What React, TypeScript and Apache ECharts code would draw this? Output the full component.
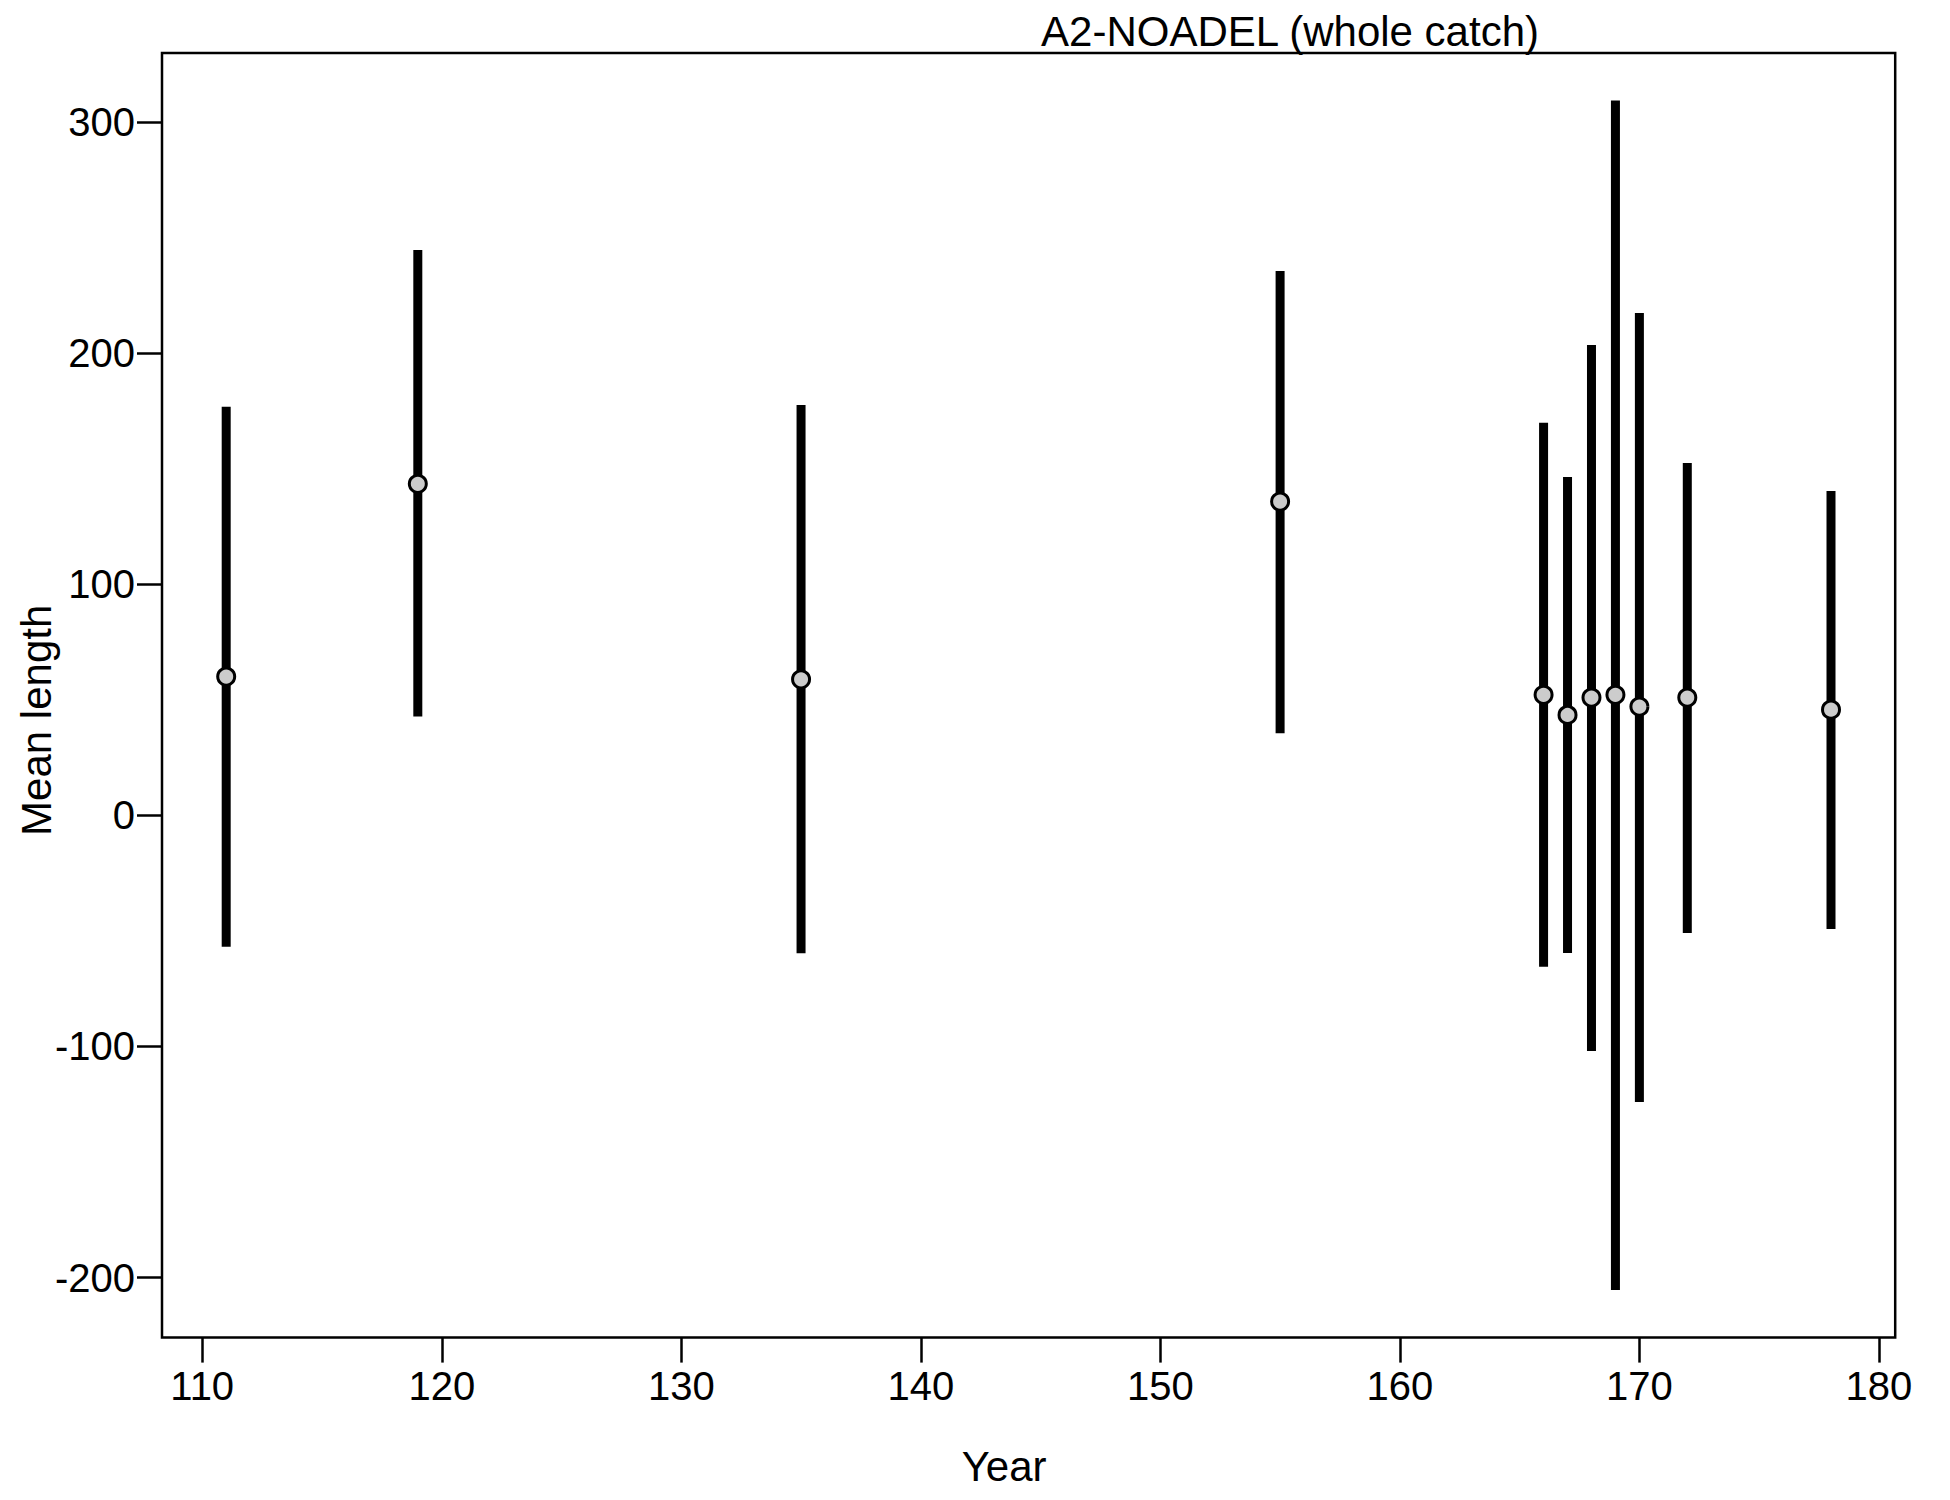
import React, { useEffect, useRef } from "react";
import * as echarts from "echarts";

// ---- data ----
const years = [111, 119, 135, 155, 166, 167, 168, 169, 170, 172, 178];
const means = [60.0, 143.4, 58.8, 135.7, 52.1, 43.4, 50.9, 52.1, 47.0, 50.9, 45.7];
const upper = [176.7, 244.6, 177.5, 235.5, 169.8, 146.4, 203.5, 309.2, 217.3, 152.4, 140.3];
const lower = [-56.9, 42.7, -59.7, 35.5, -65.6, -59.6, -102.0, -205.4, -124.1, -50.9, -49.2];

const xTicks = [110, 120, 130, 140, 150, 160, 170, 180];
const yTicks = [-200, -100, 0, 100, 200, 300];

const xMin = 108.32;
const xMax = 180.68;
const yMin = -226.0;
const yMax = 329.8;

const titleText = "A2-NOADEL (whole catch)";
const xName = "Year";
const yName = "Mean length";

const FONT = "'Liberation Sans', Arial, Helvetica, sans-serif";

export default function App() {
  const ref = useRef<HTMLDivElement>(null);

  useEffect(() => {
    if (!ref.current) return;
    const chart = echarts.init(ref.current, undefined, { renderer: "svg" });

    const barData = years.map((y, i) => [y, lower[i], upper[i]]);
    const pointData = years.map((y, i) => [y, means[i]]);

    const option: any = {
      animation: false,
      backgroundColor: "#ffffff",
      textStyle: { fontFamily: FONT },
      grid: {
        left: 162,
        right: 54.8,
        top: 53,
        bottom: 162.4,
        containLabel: false,
        outerBoundsMode: "none",
        show: true,
        borderColor: "#000000",
        borderWidth: 2.5,
        backgroundColor: "transparent",
      },
      graphic: [
        {
          type: "text",
          x: 1290,
          y: 31,
          style: {
            text: titleText,
            fontSize: 42,
            fontFamily: FONT,
            fill: "#000000",
            textAlign: "center",
            textVerticalAlign: "middle",
          },
        },
      ],
      xAxis: {
        type: "value",
        min: xMin,
        max: xMax,
        name: xName,
        nameLocation: "middle",
        nameGap: 108,
        nameMoveOverlap: false,
        nameTextStyle: {
          fontSize: 42,
          fontFamily: FONT,
          color: "#000000",
          padding: [0, 49, 0, 0],
        },
        axisLine: { show: false, onZero: false },
        splitLine: { show: false },
        axisTick: {
          show: true,
          inside: false,
          length: 25,
          customValues: xTicks,
          lineStyle: { color: "#000000", width: 2.5 },
        },
        axisLabel: {
          show: true,
          margin: 28,
          fontSize: 40,
          fontFamily: FONT,
          color: "#000000",
          customValues: xTicks,
        },
      },
      yAxis: {
        type: "value",
        min: yMin,
        max: yMax,
        name: yName,
        nameLocation: "middle",
        nameGap: 105,
        nameMoveOverlap: false,
        nameRotate: 90,
        nameTextStyle: {
          fontSize: 42,
          fontFamily: FONT,
          color: "#000000",
          padding: [0, 50, 0, 0],
        },
        axisLine: { show: false, onZero: false },
        splitLine: { show: false },
        axisTick: {
          show: true,
          inside: false,
          length: 25,
          customValues: yTicks,
          lineStyle: { color: "#000000", width: 2.5 },
        },
        axisLabel: {
          show: true,
          margin: 27,
          fontSize: 40,
          fontFamily: FONT,
          color: "#000000",
          customValues: yTicks,
        },
      },
      series: [
        {
          type: "custom",
          name: "interval",
          data: barData,
          encode: { x: 0, y: [1, 2] },
          z: 2,
          renderItem: (params: any, api: any) => {
            const x = api.value(0);
            const lo = api.value(1);
            const hi = api.value(2);
            const p1 = api.coord([x, lo]);
            const p2 = api.coord([x, hi]);
            return {
              type: "line",
              shape: { x1: p1[0], y1: p1[1], x2: p2[0], y2: p2[1] },
              style: { stroke: "#000000", lineWidth: 9, lineCap: "butt" },
            };
          },
        },
        {
          type: "scatter",
          name: "mean",
          data: pointData,
          z: 3,
          symbol: "circle",
          symbolSize: 17,
          itemStyle: {
            color: "#cccccc",
            borderColor: "#000000",
            borderWidth: 3,
            opacity: 1,
          },
        },
      ],
    };

    chart.setOption(option);
    return () => {
      chart.dispose();
    };
  }, []);

  return (
    <div
      ref={ref}
      style={{
        position: "absolute",
        left: 0,
        top: 0,
        width: 1950,
        height: 1500,
        background: "#ffffff",
      }}
    />
  );
}
